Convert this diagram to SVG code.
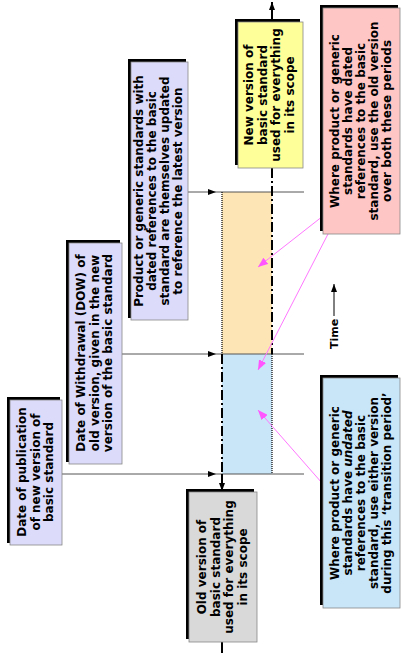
<svg xmlns="http://www.w3.org/2000/svg" width="402" height="653" viewBox="0 0 402 653">
<defs>
<style>
.t{font-family:"DejaVu Sans",Verdana,sans-serif;font-weight:bold;font-size:12px;fill:#000;text-anchor:middle}
.sh{fill:#000}
.bx{stroke:#888;stroke-width:0.8}
.cn{stroke:#555;stroke-width:1;fill:none}
.dd{stroke:#000;stroke-width:2;stroke-dasharray:10 3 2 3;fill:none}
.dt{stroke:#000;stroke-width:1.2;stroke-dasharray:1 1;fill:none}
.sl{stroke:#000;stroke-width:2;fill:none}
.mg{stroke:#ff77ff;stroke-width:1;fill:none}
</style>
<marker id="ab" markerWidth="8" markerHeight="6" refX="8" refY="3" orient="auto" markerUnits="userSpaceOnUse"><path d="M0,0L8,3L0,6z" fill="#000"/></marker>
<marker id="am" markerWidth="10" markerHeight="8" refX="10" refY="4" orient="auto" markerUnits="userSpaceOnUse"><path d="M0,0L10,4L0,8z" fill="#ff55ff"/></marker>
</defs>
<rect x="222" y="192" width="50" height="162" fill="#fde5b6"/>
<rect x="222" y="354" width="50" height="120" fill="#c9e6f9"/>
<g id="connectors">
<line class="cn" x1="62" y1="474" x2="216" y2="474" marker-end="url(#ab)"/>
<line class="cn" x1="216" y1="474" x2="304" y2="474"/>
<line class="cn" x1="121" y1="354" x2="216" y2="354" marker-end="url(#ab)"/>
<line class="cn" x1="216" y1="354" x2="304" y2="354"/>
<line class="cn" x1="188" y1="192" x2="216" y2="192" marker-end="url(#ab)"/>
<line class="cn" x1="216" y1="192" x2="304" y2="192"/>
<line class="dt" x1="222" y1="192" x2="222" y2="354"/>
<line class="dd" x1="222" y1="354" x2="222" y2="474"/>
<line class="sl" x1="222" y1="474" x2="222" y2="491" marker-end="url(#ab)"/>
<line class="sl" x1="222" y1="642" x2="222" y2="653"/>
<line class="dd" x1="272" y1="168" x2="272" y2="354"/>
<line class="dt" x1="272" y1="354" x2="272" y2="474"/>
<line class="sl" x1="272" y1="22" x2="272" y2="2" marker-end="url(#ab)"/>
<line class="mg" x1="323" y1="216" x2="258" y2="267" marker-end="url(#am)"/>
<line class="mg" x1="328" y1="234" x2="258" y2="370" marker-end="url(#am)"/>
<line class="mg" x1="322" y1="483" x2="258" y2="410" marker-end="url(#am)"/>
<line x1="334" y1="316" x2="334" y2="284" stroke="#000" stroke-width="1" marker-end="url(#ab)"/>
</g>
<text class="t" transform="translate(338,334) rotate(-90)" style="font-size:11px">Time</text>
<g id="pub">
<rect class="sh" x="7" y="397" width="53" height="146"/>
<rect class="bx" x="10" y="400" width="52" height="145" fill="#dcdcfa"/>
<text class="t" transform="translate(36,472) rotate(-90)"><tspan x="0" y="-10">Date of publication</tspan><tspan x="0" y="3.5">of new version of</tspan><tspan x="0" y="17">basic standard</tspan></text>
</g>
<g id="dow">
<rect class="sh" x="66" y="240" width="54" height="222"/>
<rect class="bx" x="69" y="243" width="53" height="221" fill="#dcdcfa"/>
<text class="t" transform="translate(95,353) rotate(-90)"><tspan x="0" y="-10">Date of Withdrawal (DOW) of</tspan><tspan x="0" y="3.5">old version, given in the new</tspan><tspan x="0" y="17">version of the basic standard</tspan></text>
</g>
<g id="prod">
<rect class="sh" x="128" y="59" width="58" height="259"/>
<rect class="bx" x="131" y="62" width="57" height="258" fill="#dcdcfa"/>
<text class="t" transform="translate(159,191) rotate(-90)"><tspan x="0" y="-16">Product or generic standards with</tspan><tspan x="0" y="-3">dated references to the basic</tspan><tspan x="0" y="10">standard are themselves updated</tspan><tspan x="0" y="23">to reference the latest version</tspan></text>
</g>
<g id="newv">
<rect class="sh" x="235" y="19" width="65" height="146"/>
<rect class="bx" x="238" y="22" width="65" height="146" fill="#ffff99"/>
<text class="t" transform="translate(270,95) rotate(-90)"><tspan x="0" y="-17">New version of</tspan><tspan x="0" y="-3.5">basic standard</tspan><tspan x="0" y="10">used for everything</tspan><tspan x="0" y="23.5">in its scope</tspan></text>
</g>
<g id="oldv">
<rect class="sh" x="186" y="489" width="68" height="150"/>
<rect class="bx" x="189" y="492" width="68" height="150" fill="#d9d9d9"/>
<text class="t" transform="translate(223,567) rotate(-90)"><tspan x="0" y="-17">Old version of</tspan><tspan x="0" y="-3.5">basic standard</tspan><tspan x="0" y="10">used for everything</tspan><tspan x="0" y="23.5">in its scope</tspan></text>
</g>
<g id="dated">
<rect class="sh" x="320" y="5" width="78" height="226"/>
<rect class="bx" x="323" y="8" width="77" height="226" fill="#ffc6c6"/>
<text class="t" transform="translate(362,121) rotate(-90)"><tspan x="0" y="-23">Where product or generic</tspan><tspan x="0" y="-10">standards have dated</tspan><tspan x="0" y="3">references to the basic</tspan><tspan x="0" y="16">standard, use the old version</tspan><tspan x="0" y="29">over both these periods</tspan></text>
</g>
<g id="undated">
<rect class="sh" x="320" y="375" width="78" height="230"/>
<rect class="bx" x="323" y="378" width="77" height="230" fill="#c9e6f9"/>
<text class="t" transform="translate(362,493) rotate(-90)"><tspan x="0" y="-23">Where product or generic</tspan><tspan x="0" y="-10">standards have <tspan font-style="italic">undated</tspan></tspan><tspan x="0" y="3">references to the basic</tspan><tspan x="0" y="16">standard, use either version</tspan><tspan x="0" y="29">during this ‘transition period’</tspan></text>
</g>
</svg>
